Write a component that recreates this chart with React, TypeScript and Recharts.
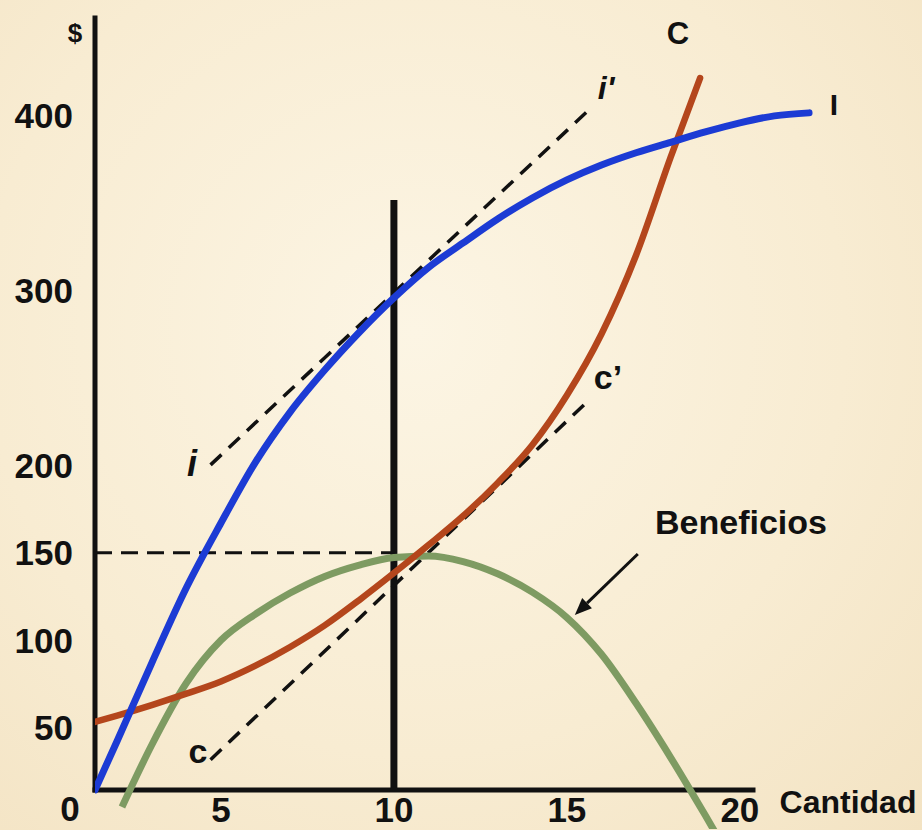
import { ComposedChart, Line, ReferenceLine, XAxis, YAxis } from 'recharts';

// Cantidad (eje X) y valores en $
const cantidadIngreso = [1.36, 2, 3, 4, 5, 6, 7, 8, 9, 10, 11, 12, 13, 14, 15, 16, 17, 18, 19, 20, 21, 22];
const ingreso = [14.5, 42.5, 87, 130, 167, 201.8, 230.4, 254.4, 276, 295.6, 313, 327, 340.7, 352.7, 363, 371.5, 378.5, 384.5, 390.4, 395.6, 399.6, 401.3];

const cantidadCosto = [1.36, 2, 3, 4, 5, 6, 7, 8, 9, 10, 11, 12, 13, 14, 15, 16, 17, 18, 18.85];
const costo = [53.4, 57, 63, 69.5, 76.5, 85.5, 96.2, 108.5, 123, 138.4, 154.4, 171, 189.9, 211.6, 240, 275, 320, 376, 421.2];

const cantidadBeneficio = [2.14, 3, 4, 5, 6, 7, 8, 9, 10, 11, 12, 13, 14, 15, 16, 17, 18, 19, 20];
const beneficio = [4.8, 40.2, 75.6, 100, 115, 127, 136.5, 143, 147.3, 148.2, 145, 138, 127.5, 113, 92, 64, 33, 0, -34];

// tangentes i-i' y c-c'
const cantidadTangente = [4.7, 15.7];
const tangenteIngreso = [200.2, 404.2];
const tangenteCosto = [31.8, 238.4];

const yTicks = [50, 100, 150, 200, 300, 400];
const xTicks = [5, 10, 15, 20];

const X_MIN = 1.36;
const X_MAX = 24.6;
const Y_MIN = -7.8;
const Y_MAX = 455.5;
const EJE_Y = 14.5; // nivel donde se dibuja el eje de cantidades
const Q_OPTIMA = 10;
const BENEFICIO_MAX = 150;

const toPoints = (qs: number[], vs: number[]) => qs.map((q, i) => ({ q, v: vs[i] }));

const FONT = '"Liberation Sans", Arial, sans-serif';

const XTick = (props: any) => {
  const { x, y, payload } = props;
  return (
    <text x={x} y={y - 7} textAnchor="middle" fontFamily={FONT} fontWeight="bold" fontSize={35} fill="#111">
      {payload.value}
    </text>
  );
};

const Flecha = (props: any) => {
  const { x1, y1, x2, y2 } = props;
  const ang = Math.atan2(y2 - y1, x2 - x1);
  const len = 17;
  const half = 7;
  const bx = x2 - len * Math.cos(ang);
  const by = y2 - len * Math.sin(ang);
  const px = -Math.sin(ang) * half;
  const py = Math.cos(ang) * half;
  return (
    <g>
      <line x1={x1} y1={y1} x2={bx} y2={by} stroke="#111" strokeWidth={3} />
      <polygon points={`${x2},${y2} ${bx + px},${by + py} ${bx - px},${by - py}`} fill="#111" />
    </g>
  );
};

const labelStyle = (x: number, y: number, size: number, italic = false): React.CSSProperties => ({
  position: 'absolute',
  left: x,
  top: y,
  transform: 'translate(-50%, -50%)',
  fontFamily: FONT,
  fontWeight: 'bold',
  fontStyle: italic ? 'italic' : 'normal',
  fontSize: size,
  lineHeight: 1,
  color: '#111',
  whiteSpace: 'nowrap',
});

export default function App() {
  return (
    <div
      style={{
        position: 'absolute',
        left: 0,
        top: 0,
        width: 922,
        height: 830,
        overflow: 'hidden',
        background: 'radial-gradient(ellipse at 45% 40%, #fcf5e4 0%, #f8ecd2 60%, #f3e3c3 100%)',
      }}
    >
      <ComposedChart width={922} height={830} margin={{ top: 18, right: 23, bottom: 0, left: 0 }}>
        <XAxis
          type="number"
          dataKey="q"
          domain={[X_MIN, X_MAX]}
          allowDataOverflow
          ticks={xTicks}
          height={1}
          axisLine={false}
          tickLine={false}
          tickSize={0}
          tickMargin={0}
          tick={<XTick />}
        />
        <YAxis
          type="number"
          domain={[Y_MIN, Y_MAX]}
          allowDataOverflow
          ticks={yTicks}
          width={95}
          axisLine={false}
          tickLine={false}
          tickSize={0}
          tickMargin={22}
          tick={{ fontFamily: FONT, fontWeight: 'bold', fontSize: 35, fill: '#111' }}
        />

        {/* ejes */}
        <ReferenceLine
          segment={[{ x: X_MIN, y: EJE_Y }, { x: X_MIN, y: Y_MAX }]}
          stroke="#111"
          strokeWidth={5}
          strokeLinecap="square"
        />
        <ReferenceLine
          segment={[{ x: X_MIN, y: EJE_Y }, { x: 20.38, y: EJE_Y }]}
          stroke="#111"
          strokeWidth={5}
          strokeLinecap="square"
        />

        {/* nivel de beneficio máximo y cantidad óptima */}
        <ReferenceLine
          segment={[{ x: X_MIN, y: BENEFICIO_MAX }, { x: Q_OPTIMA, y: BENEFICIO_MAX }]}
          stroke="#111"
          strokeWidth={3}
          strokeDasharray="17 9"
        />
        <ReferenceLine
          segment={[{ x: Q_OPTIMA, y: EJE_Y }, { x: Q_OPTIMA, y: 351.5 }]}
          stroke="#111"
          strokeWidth={7}
        />

        <Line
          data={toPoints(cantidadTangente, tangenteIngreso)}
          dataKey="v"
          type="linear"
          stroke="#111"
          strokeWidth={3.5}
          strokeDasharray="15 10"
          dot={false}
          isAnimationActive={false}
        />
        <Line
          data={toPoints(cantidadTangente, tangenteCosto)}
          dataKey="v"
          type="linear"
          stroke="#111"
          strokeWidth={3.5}
          strokeDasharray="15 10"
          dot={false}
          isAnimationActive={false}
        />

        <Line
          data={toPoints(cantidadBeneficio, beneficio)}
          dataKey="v"
          type="monotone"
          stroke="#7e9b62"
          strokeWidth={7}
          dot={false}
          isAnimationActive={false}
        />
        <Line
          data={toPoints(cantidadCosto, costo)}
          dataKey="v"
          type="monotone"
          stroke="#b4461c"
          strokeWidth={6.5}
          strokeLinecap="round"
          dot={false}
          isAnimationActive={false}
        />
        <Line
          data={toPoints(cantidadIngreso, ingreso)}
          dataKey="v"
          type="monotone"
          stroke="#1c3bd4"
          strokeWidth={7}
          strokeLinecap="round"
          dot={false}
          isAnimationActive={false}
        />

        <ReferenceLine
          segment={[{ x: 17.05, y: 149.3 }, { x: 15.23, y: 114.5 }]}
          shape={<Flecha />}
        />
      </ComposedChart>

      <span style={labelStyle(75, 33, 26)}>$</span>
      <span style={labelStyle(70, 808, 35)}>0</span>
      <span style={labelStyle(678, 33, 31)}>C</span>
      <span style={labelStyle(834, 105, 30)}>I</span>
      <span style={labelStyle(606, 88, 32, true)}>i'</span>
      <span style={labelStyle(608, 377, 34)}>c’</span>
      <span style={labelStyle(192, 464, 36, true)}>i</span>
      <span style={labelStyle(198, 751, 34)}>c</span>
      <span style={labelStyle(741, 522, 34)}>Beneficios</span>
      <span style={labelStyle(848, 802, 32)}>Cantidad</span>
    </div>
  );
}
